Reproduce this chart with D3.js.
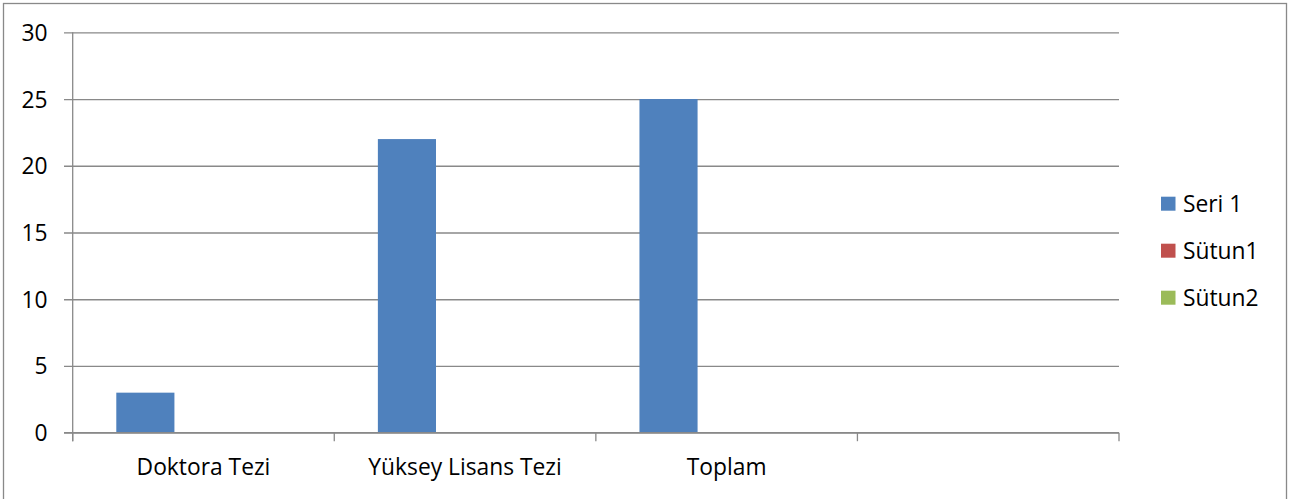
<!DOCTYPE html>
<html><head><meta charset="utf-8">
<script src="https://cdn.jsdelivr.net/npm/d3@7"></script>
<style>
html,body{margin:0;padding:0;background:#fff;}
svg{display:block;}
text{font-family:"Open Sans",sans-serif;fill:#000;}
</style></head>
<body>
<script>
const categories = ["Doktora Tezi", "Yüksey Lisans Tezi", "Toplam", ""];
const seriesNames = ["Seri 1", "Sütun1", "Sütun2"];
const seri1 = [3, 22, 25, null];
const sutun1 = [null, null, null, null];
const sutun2 = [null, null, null, null];
const yTicks = [0, 5, 10, 15, 20, 25, 30];
const colors = ["#4F81BD", "#C0504D", "#9BBB59"];

const W = 1305, H = 499;
const L = 72.7, R = 1119, T = 32.3, B = 432.7;
const gridColor = "#898989";
const fs = 22.8;

const svg = d3.select("body").append("svg").attr("width", W).attr("height", H);

svg.append("rect").attr("x", 3.5).attr("y", 3.5).attr("width", 1283).attr("height", 520)
  .attr("fill", "#fff").attr("stroke", gridColor).attr("stroke-width", 1.3);

const x = d3.scaleBand().domain(categories.map((c, i) => i)).range([L, R]).padding(0);
const y = d3.scaleLinear().domain([0, 30]).range([B, T]);
const cw = x.bandwidth();
const bw = cw / 4.5;
const xs = d3.scaleBand().domain(seriesNames).range([bw * 0.75, bw * 3.75]).padding(0);

// gridlines + y axis
const yAxis = d3.axisLeft(y).tickValues(yTicks).tickSize(R - (L - 8.7)).tickFormat(d3.format("d"));
const yg = svg.append("g").attr("transform", `translate(${R},0)`).call(yAxis);
yg.select(".domain").remove();
yg.selectAll(".tick line").attr("stroke", gridColor).attr("stroke-width", 1.3);
yg.selectAll(".tick text").attr("x", -(R - 47.5) ).attr("text-anchor", "end")
  .attr("dy", "0.35em").style("font-size", fs + "px").style("font-family", "Open Sans");

// bars
const series = [seri1, sutun1, sutun2];
series.forEach((vals, si) => {
  svg.append("g").selectAll("rect").data(vals.map((v, i) => ({v, i})).filter(d => d.v != null))
    .join("rect")
    .attr("x", d => x(d.i) + xs(seriesNames[si]))
    .attr("width", xs.bandwidth())
    .attr("y", d => y(d.v))
    .attr("height", d => y(0) - y(d.v))
    .attr("fill", colors[si]);
});

// y axis line
svg.append("line").attr("x1", L).attr("x2", L).attr("y1", T).attr("y2", B + 8.5)
  .attr("stroke", gridColor).attr("stroke-width", 1.3);
// x axis line
svg.append("line").attr("x1", L - 8.7).attr("x2", R).attr("y1", B).attr("y2", B)
  .attr("stroke", gridColor).attr("stroke-width", 1.3);
// x ticks at boundaries
const bounds = d3.range(categories.length + 1).map(i => L + i * cw);
svg.append("g").selectAll("line").data(bounds).join("line")
  .attr("x1", d => d).attr("x2", d => d).attr("y1", B).attr("y2", B + 8.5)
  .attr("stroke", gridColor).attr("stroke-width", 1.3);
// category labels
svg.append("g").selectAll("text").data(categories).join("text")
  .attr("x", (d, i) => x(i) + cw / 2).attr("y", 475)
  .attr("text-anchor", "middle").style("font-size", fs + "px").text(d => d);

// legend
const lg = svg.append("g");
seriesNames.forEach((n, i) => {
  const yy = 203.7 + i * 47;
  lg.append("rect").attr("x", 1161).attr("y", yy - 7).attr("width", 14.5).attr("height", 14)
    .attr("fill", colors[i]);
  lg.append("text").attr("x", 1183).attr("y", yy).attr("dy", "0.35em")
    .style("font-size", fs + "px").text(n);
});
</script>
</body></html>
